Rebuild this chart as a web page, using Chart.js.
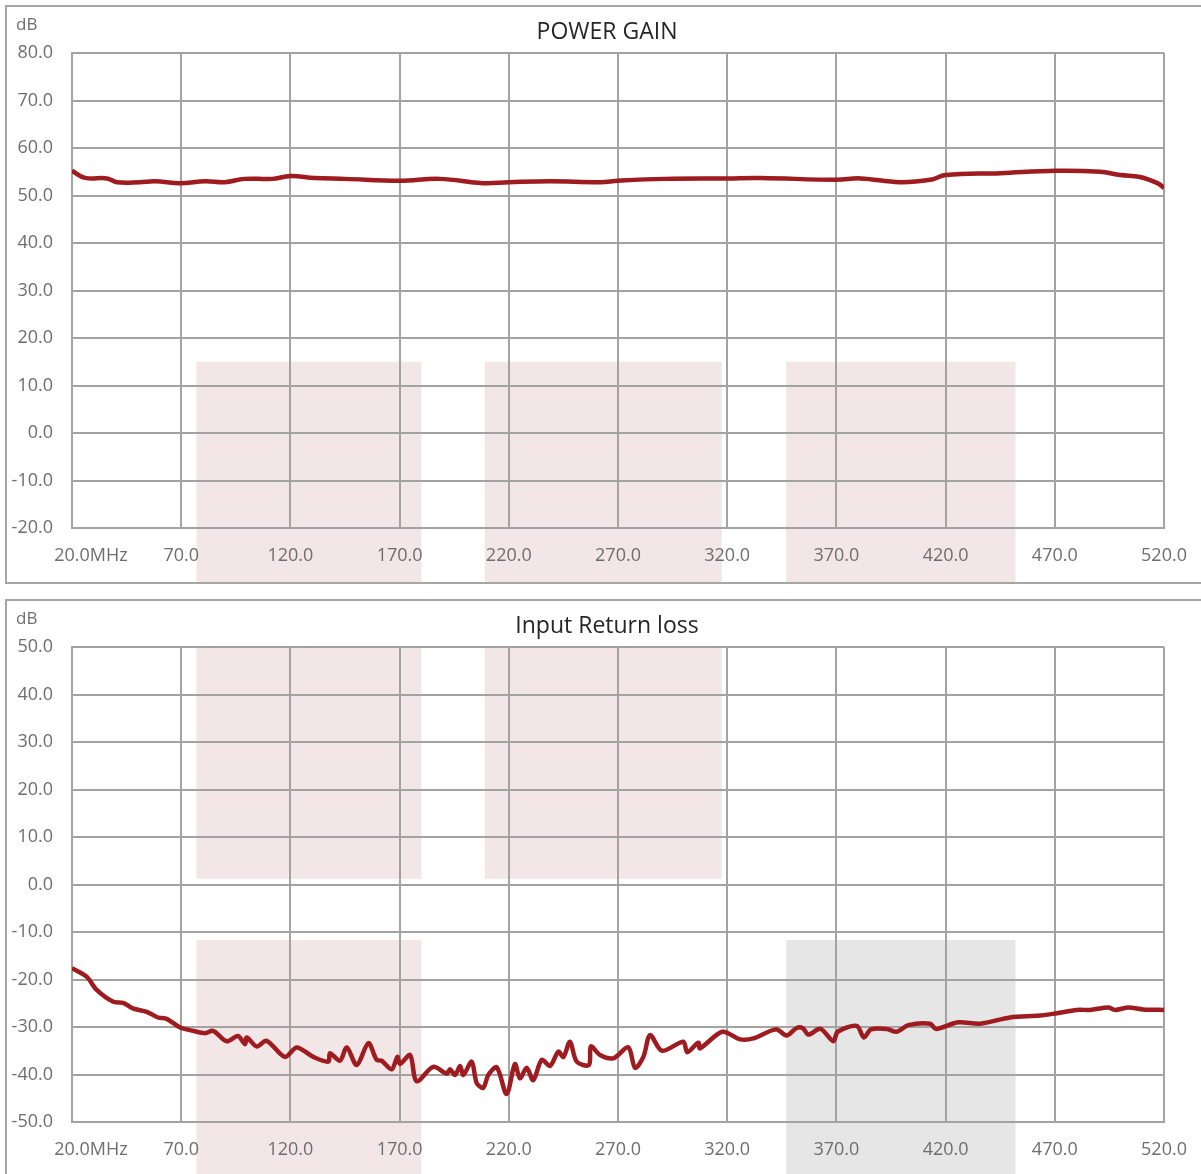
<!DOCTYPE html>
<html>
<head>
<meta charset="utf-8">
<script src="https://cdn.jsdelivr.net/npm/chart.js@4.4.1/dist/chart.umd.min.js"></script>
<style>
  html, body { margin: 0; padding: 0; background: #fff; overflow: hidden; }
  .panel {
    position: absolute;
    left: 5px;
    width: 1200px;
    height: 575px;
    border: 2px solid #a6a6a6;
    background: #fff;
  }
  #panelGain { top: 5px; }
  #panelRl { top: 599px; }
</style>
</head>
<body>
<div class="panel" id="panelGain"><canvas id="gainChart"></canvas></div>
<div class="panel" id="panelRl"><canvas id="rlChart"></canvas></div>

<script>
// ---- data ----
const freqTicks = [20, 70, 120, 170, 220, 270, 320, 370, 420, 470, 520];
const gainTicks = [-20, -10, 0, 10, 20, 30, 40, 50, 60, 70, 80];
const rlTicks = [-50, -40, -30, -20, -10, 0, 10, 20, 30, 40, 50];

// POWER GAIN (MHz / dB)
const gainFreq = [20, 26, 36, 40.6, 51, 58, 69.5, 81, 90, 99, 111.6, 120, 131, 145, 170,
  188.5, 208, 220, 239, 262, 270, 291.5, 320, 335, 370, 381, 399, 413, 420, 445,
  470.5, 490.7, 500, 509, 517, 520];
const gainDb = [55.2, 53.7, 53.6, 52.8, 52.8, 53.0, 52.6, 53.0, 52.8, 53.5, 53.5, 54.1, 53.7, 53.5, 53.1,
  53.5, 52.6, 52.8, 53.0, 52.8, 53.1, 53.5, 53.6, 53.7, 53.3, 53.6, 52.8, 53.3, 54.3, 54.7,
  55.2, 55.0, 54.3, 53.9, 52.6, 51.6];

// Input Return loss (MHz / dB)
const rlFreq = [20.0, 26.7, 31.3, 38.9, 43.4, 47.9, 54.2, 59.4, 63.4, 69.5, 75.4, 80.9, 84.6, 90.8,
  96.0, 99.2, 100.0, 104.6, 109.1, 117.5, 122.9, 130.5, 137.4, 138.1, 142.7, 145.8, 150.4,
  155.7, 159.5, 161.8, 166.4, 169.0, 170.2, 174.8, 177.8, 185.4, 191.6, 193.1, 195.4, 197.7,
  199.2, 203.0, 205.3, 208.3, 210.6, 214.5, 219.0, 222.8, 225.1, 228.2, 231.2, 235.1, 238.9,
  242.7, 245.0, 248.0, 251.1, 256.7, 257.6, 261.8, 267.8, 274.7, 277.8, 281.6, 284.7, 290.1,
  299.9, 301.7, 306.8, 307.5, 317.8, 325.9, 332.0, 342.3, 347.2, 351.8, 354.8, 357.1, 362.7,
  368.6, 370.6, 379.3, 382.6, 385.8, 393.0, 397.6, 402.9, 412.9, 415.6, 425.8, 435.8, 449.5,
  463.2, 470.9, 480.0, 486.1, 494.5, 497.6, 503.7, 510.5, 520.0];
const rlDb = [-17.6, -19.4, -22.2, -24.7, -24.9, -26.1, -26.8, -28.0, -28.3, -30.1, -30.8, -31.3, -30.8, -33.0,
  -31.9, -33.6, -32.2, -34.1, -32.9, -36.3, -34.3, -36.3, -37.3, -35.5, -37.1, -34.3, -38.0,
  -33.4, -36.9, -37.1, -38.9, -36.3, -37.8, -35.9, -41.4, -38.4, -39.8, -38.9, -40.1, -38.2,
  -40.1, -37.3, -41.8, -42.8, -40.1, -38.5, -44.1, -37.8, -40.8, -38.6, -41.2, -36.9, -38.2,
  -35.2, -36.3, -33.1, -37.3, -38.0, -34.1, -35.9, -36.6, -34.3, -38.6, -36.3, -31.7, -35.0,
  -33.1, -35.3, -33.3, -34.5, -31.0, -32.6, -32.4, -30.5, -31.8, -30.2, -30.3, -31.6, -30.4,
  -33.0, -31.0, -29.8, -32.2, -30.5, -30.4, -31.0, -29.6, -29.3, -30.4, -29.0, -29.3, -28.0,
  -27.6, -27.1, -26.4, -26.4, -25.9, -26.4, -25.9, -26.3, -26.4];

// shaded frequency bands (MHz)
const bandLo = [77, 209, 347];
const bandHi = [180, 317.5, 452];
const gainBandTop = 15;
const rlUpperTop = 50;
const rlUpperBottom = 1.2;
const rlLowerTop = -11.7;

const PINK = '#f3e6e6';
const GREY = '#e6e6e6';
const GRID = '#a3a3a3';
const LINE = '#9e1b20';
const TEXT = '#6e6e6e';
const FONT = "'Open Sans', 'Noto Sans', sans-serif";
const TICK_SIZE = 18;
const X_PAD = 17;

// band rects: { i: band index, top: dB, bottom: dB or null (= canvas bottom), color }
function bandsPlugin(rects) {
  return {
    id: 'bands',
    beforeDraw(chart) {
      const { ctx, scales: { x, y } } = chart;
      ctx.save();
      rects.forEach(r => {
        const x0 = x.getPixelForValue(bandLo[r.i]);
        const x1 = x.getPixelForValue(bandHi[r.i]);
        const y0 = y.getPixelForValue(r.top);
        const y1 = r.bottom === null ? chart.height : y.getPixelForValue(r.bottom);
        ctx.fillStyle = r.color;
        ctx.fillRect(x0, y0, x1 - x0, y1 - y0);
      });
      ctx.restore();
    }
  };
}

function labelsPlugin(title) {
  return {
    id: 'labels',
    afterDraw(chart) {
      const { ctx, scales: { x } } = chart;
      ctx.save();
      ctx.fillStyle = '#262626';
      ctx.font = '23px ' + FONT;
      ctx.textAlign = 'center';
      ctx.textBaseline = 'middle';
      ctx.fillText(title, chart.width / 2, 25);

      ctx.fillStyle = TEXT;
      ctx.font = '17px ' + FONT;
      ctx.textAlign = 'left';
      ctx.fillText('dB', 9, 18);

      // unit tacked onto the first x tick
      ctx.font = TICK_SIZE + 'px ' + FONT;
      const w = ctx.measureText('20.0').width;
      ctx.fillText('MHz', x.getPixelForValue(freqTicks[0]) + w / 2,
        x.top + X_PAD + TICK_SIZE * 1.2 / 2);
      ctx.restore();
    }
  };
}

function makeChart(id, title, freq, values, yTicks, tension, rects) {
  const points = freq.map((f, i) => ({ x: f, y: values[i] }));
  return new Chart(document.getElementById(id), {
    type: 'line',
    data: {
      datasets: [{
        data: points,
        borderColor: LINE,
        borderWidth: 4.5,
        pointRadius: 0,
        tension: tension,
        fill: false
      }]
    },
    options: {
      responsive: true,
      maintainAspectRatio: false,
      animation: false,
      layout: { padding: { top: 46, right: 43, left: 0, bottom: 0 } },
      plugins: {
        legend: { display: false },
        tooltip: { enabled: false }
      },
      scales: {
        x: {
          type: 'linear',
          min: freqTicks[0],
          max: freqTicks[freqTicks.length - 1],
          afterBuildTicks: s => { s.ticks = freqTicks.map(v => ({ value: v })); },
          afterFit: s => { s.height = 54; },
          grid: { color: GRID, lineWidth: 2, drawTicks: false },
          border: { color: GRID, width: 2 },
          ticks: {
            color: TEXT,
            font: { family: FONT, size: TICK_SIZE },
            padding: X_PAD,
            maxRotation: 0,
            autoSkip: false,
            callback: v => v.toFixed(1)
          }
        },
        y: {
          min: yTicks[0],
          max: yTicks[yTicks.length - 1],
          afterBuildTicks: s => { s.ticks = yTicks.map(v => ({ value: v })); },
          afterFit: s => { s.width = 65; },
          grid: { color: GRID, lineWidth: 2, drawTicks: false },
          border: { color: GRID, width: 2 },
          ticks: {
            color: TEXT,
            font: { family: FONT, size: TICK_SIZE },
            padding: 19,
            autoSkip: false,
            callback: v => v.toFixed(1)
          }
        }
      }
    },
    plugins: [bandsPlugin(rects), labelsPlugin(title)]
  });
}

makeChart('gainChart', 'POWER GAIN', gainFreq, gainDb, gainTicks, 0.4, [
  { i: 0, top: gainBandTop, bottom: null, color: PINK },
  { i: 1, top: gainBandTop, bottom: null, color: PINK },
  { i: 2, top: gainBandTop, bottom: null, color: PINK }
]);

makeChart('rlChart', 'Input Return loss', rlFreq, rlDb, rlTicks, 0.3, [
  { i: 0, top: rlUpperTop, bottom: rlUpperBottom, color: PINK },
  { i: 1, top: rlUpperTop, bottom: rlUpperBottom, color: PINK },
  { i: 0, top: rlLowerTop, bottom: null, color: PINK },
  { i: 2, top: rlLowerTop, bottom: null, color: GREY }
]);
</script>
</body>
</html>
